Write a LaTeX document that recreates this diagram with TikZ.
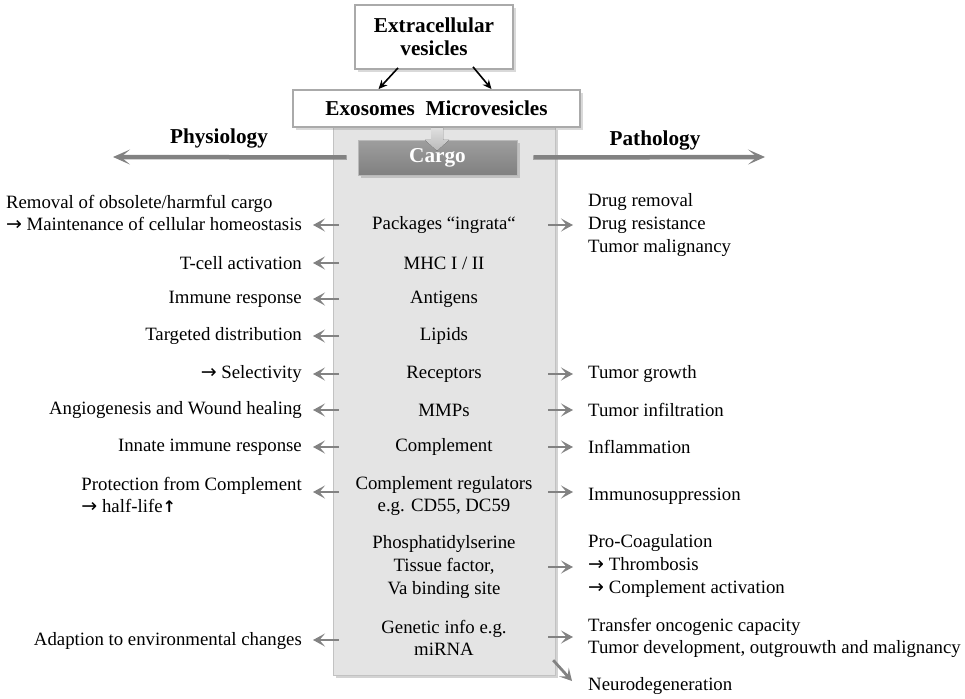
\documentclass[tikz,border=0pt]{standalone}
\usepackage{fontspec}
\setmainfont{Liberation Serif}
\newfontfamily\symfont{DejaVu Sans}
\newcommand{\rarr}{{\symfont\fontsize{19}{19}\selectfont →}}
\newcommand{\uparr}{{\symfont\bfseries\fontsize{16}{16}\selectfont ↑}}
\usetikzlibrary{arrows.meta,shadows,calc}
\definecolor{panelgray}{RGB}{228,228,228}
\definecolor{arrgray}{RGB}{130,130,130}
\definecolor{boxline}{RGB}{170,170,170}
\begin{document}
\begin{tikzpicture}[x=1pt,y=-1pt,
  txt/.style={font=\fontsize{18.8}{22.7}\selectfont, inner sep=0pt},
  btxt/.style={font=\fontsize{21.2}{23}\selectfont\bfseries, inner sep=0pt},
  wbox/.style={draw=boxline, line width=1.8pt, fill=white,
    drop shadow={shadow xshift=3pt,shadow yshift=-3pt,opacity=0.3}},
  smallarr/.style={draw=arrgray, line width=2.8pt, -{Stealth[length=12pt,width=13pt,inset=5.5pt]}},
  bigarr/.style={draw=arrgray, line width=4.5pt, -{Stealth[length=17pt,width=15pt,inset=9pt]}},
  blkarr/.style={draw=black, line width=1.6pt, -{Stealth[length=9pt,width=8pt,inset=3pt]}}
]
\useasboundingbox (0,0) rectangle (965,698);

% central panel
\node[fill=panelgray, draw=panelgray!85!black, line width=0.4pt,
  drop shadow={shadow xshift=3pt,shadow yshift=-3pt,opacity=0.35},
  minimum width=222pt, minimum height=548pt, inner sep=0pt] (panel) at (444,401) {};

% top boxes
\node[wbox, btxt, align=center, minimum width=158pt, minimum height=64pt] (ev) at (434,37) {Extracellular\\vesicles};
\node[wbox, btxt, minimum width=287pt, minimum height=37pt] (exo) at (436.5,108.5) {Exosomes\ \ Microvesicles};

\draw[blkarr] ($(ev.south)+(-36,-2)$) -- ($(exo.north)+(-58,0)$);
\draw[blkarr] ($(ev.south)+(39,-3)$) -- ($(exo.north)+(55,0)$);

% cargo box
\node[draw=gray!55, line width=0.8pt, top color={rgb,255:red,158;green,158;blue,158},
  bottom color={rgb,255:red,128;green,128;blue,128},
  drop shadow={shadow xshift=3pt,shadow yshift=-3pt,opacity=0.35},
  btxt, text=white, minimum width=159pt, minimum height=35pt] (cargo) at (437.5,157.5) {Cargo};

% block arrow from exo box into cargo
\fill[top color=gray!25, bottom color=gray!55]
  ($(exo.south)+(-5.5,0)$) -- ++(12,0) -- ++(0,12) -- ++(6,0) -- ++(-12,11) -- ++(-12,-11) -- ++(6,0) -- cycle;

% physiology / pathology
\node[btxt] (phys) at (219,138) {Physiology};
\node[btxt] (path) at (655,140) {Pathology};
\coordinate (physEnd) at (113,157);
\coordinate (pathEnd) at (765,157);
\draw[bigarr] ([xshift=-11pt]cargo.west) -- (physEnd);
\draw[bigarr] ([xshift=16pt]cargo.east) -- (pathEnd);

% cargo items
\node[txt] (c1) at (444,225) {Packages “ingrata“};
\node[txt] (c2) at (444,263) {MHC I / II};
\node[txt] (c3) at (444,299) {Antigens};
\node[txt] (c4) at (444,336) {Lipids};
\node[txt] (c5) at (444,374) {Receptors};
\node[txt] (c6) at (444,410) {MMPs};
\node[txt] (c7) at (444,447) {Complement};
\node[txt, align=center] (c8) at (444,496) {Complement regulators\\e.g. CD55, DC59};
\node[txt, align=center] (c9) at (444,567) {Phosphatidylserine\\Tissue factor,\\Va binding site};
\node[txt, align=center] (c10) at (444,638) {Genetic info e.g.\\miRNA};

% physiology texts
\node[txt, align=left, anchor=east] (L1) at (302,213) {Removal of obsolete/harmful cargo\\\rarr\ Maintenance of cellular homeostasis};
\node[txt, anchor=east] (L2) at (302,263) {T-cell activation};
\node[txt, anchor=east] (L3) at (302,299) {Immune response};
\node[txt, anchor=east] (L4) at (302,336) {Targeted distribution};
\node[txt, anchor=east] (L5) at (302,374) {\rarr\ Selectivity};
\node[txt, anchor=east] (L6) at (302,410) {Angiogenesis and Wound healing};
\node[txt, anchor=east] (L7) at (302,447) {Innate immune response};
\node[txt, align=left, anchor=east] (L8) at (302,495) {Protection from Complement\\\rarr\ half-life\uparr};
\node[txt, anchor=east] (L9) at (302,641) {Adaption to environmental changes};

% pathology texts
\node[txt, align=left, anchor=west] (R1) at (588,225) {Drug removal\\Drug resistance\\Tumor malignancy};
\node[txt, anchor=west] (R2) at (588,374) {Tumor growth};
\node[txt, anchor=west] (R3) at (588,410) {Tumor infiltration};
\node[txt, anchor=west] (R4) at (588,447) {Inflammation};
\node[txt, anchor=west] (R5) at (588,496) {Immunosuppression};
\node[txt, align=left, anchor=west] (R6) at (588,566) {Pro-Coagulation\\\rarr\ Thrombosis\\\rarr\ Complement activation};
\node[txt, align=left, anchor=west] (R7) at (588,638) {Transfer oncogenic capacity\\Tumor development, outgrouwth and malignancy};
\node[txt, anchor=west] (R8) at (588,686) {Neurodegeneration};

% left arrows
\foreach \c/\l/\dy in {c1/L1/0, c2/L2/0, c3/L3/0, c4/L4/0, c5/L5/0, c6/L6/0, c7/L7/0, c8/L8/-4, c10/L9/2} {
  \draw[smallarr] ([xshift=6pt,yshift=-\dy pt]panel.west |- \c) -- ([xshift=11pt,yshift=-\dy pt]\l.east |- \c);
}
% right arrows
\foreach \c/\r/\dy in {c1/R1/0, c5/R2/0, c6/R3/0, c7/R4/0, c8/R5/-4, c9/R6/0, c10/R7/-1} {
  \draw[smallarr] ([xshift=-7pt,yshift=-\dy pt]panel.east |- \c) -- ([xshift=-15pt,yshift=-\dy pt]\r.west |- \c);
}
\draw[smallarr] ($(panel.south east)+(-2,-15)$) -- ($(R8.west)+(-16,-5)$);
\end{tikzpicture}
\end{document}
